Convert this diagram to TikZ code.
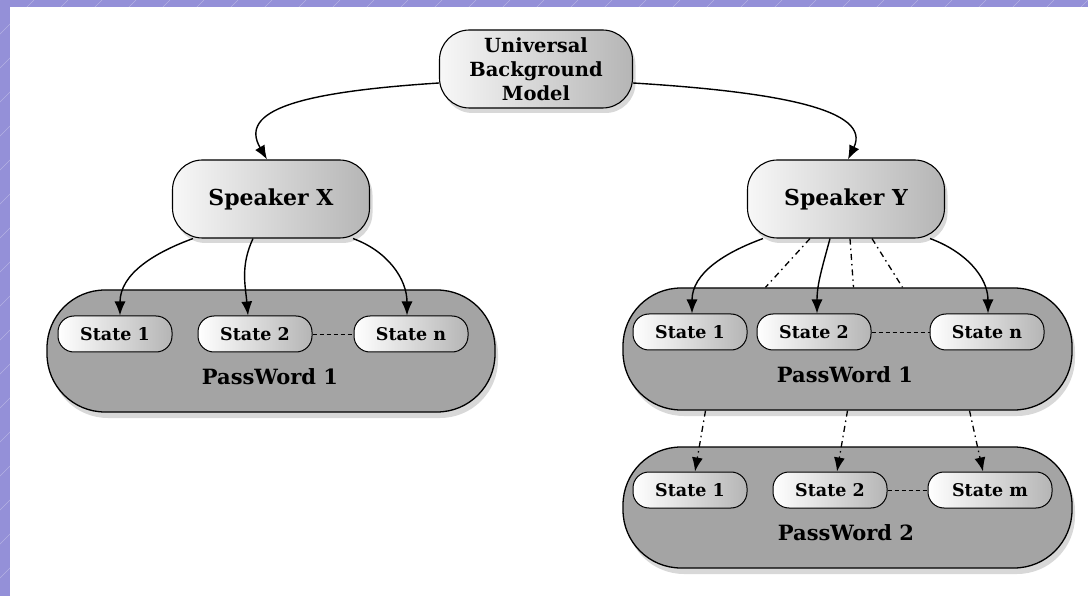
\documentclass[tikz,border=0pt]{standalone}
\usepackage{fontspec}
\usepackage{tikz}
\usepackage{xcolor}
\usetikzlibrary{calc}
\usetikzlibrary{shadows}
\usetikzlibrary{arrows.meta}
\newfontfamily\diagfont{DejaVu Serif}
\definecolor{bandcolor}{HTML}{9490D8}
\definecolor{wordfill}{HTML}{A4A4A4}
\colorlet{lightshade}{gray!6}
\colorlet{darkshade}{gray!58}
\tikzstyle{model} = [
    draw=black,
    line width=1.1pt,
    rectangle,
    rounded corners=30pt,
    left color=lightshade,
    right color=darkshade,
    drop shadow={shadow xshift=3pt,shadow yshift=-5pt,opacity=.3},
    font=\diagfont\bfseries\fontsize{19.5}{24}\selectfont,
    align=center,
    inner sep=0pt
    ]
\tikzstyle{password} = [
    draw=black,
    line width=1.3pt,
    rectangle,
    rounded corners=58pt,
    fill=wordfill,
    drop shadow={shadow xshift=3pt,shadow yshift=-6pt,opacity=.3},
    inner sep=0pt
    ]
\tikzstyle{state} = [
    draw=black,
    line width=1pt,
    rectangle,
    rounded corners=16pt,
    left color=white,
    right color=darkshade,
    minimum width=114pt,
    minimum height=36pt,
    font=\diagfont\bfseries\fontsize{17.5}{20}\selectfont,
    inner sep=0pt
    ]
\tikzstyle{wordlabel} = [
    font=\diagfont\bfseries\fontsize{21}{24}\selectfont,
    inner sep=0pt
    ]
\tikzstyle{link} = [line width=1.4pt, -{Latex[length=14pt,width=11pt]}]
\tikzstyle{hint} = [line width=1.3pt, dash pattern=on 6pt off 4pt on 1.5pt off 4pt]
\tikzstyle{gap} = [line width=0.9pt, dash pattern=on 4pt off 3pt]

\begin{document}
\begin{tikzpicture}[x=1pt,y=1pt]
% slide frame
\fill[bandcolor] (0,0) rectangle (1088,-596);
\begin{scope}
\clip (0,0) rectangle (1088,-596);
\foreach \s in {0,34,...,1700}
    \draw[white,opacity=.3,line width=.6pt] (\s-600,-600) -- (\s,0);
\end{scope}
\fill[white] (10,-7) rectangle (1088,-596);

% word boxes
\node[password, minimum width=448pt, minimum height=122pt] (wordx) at (271,-351) {};
\node[password, minimum width=449pt, minimum height=122pt] (wordy1) at (847.5,-349) {};
\node[password, minimum width=449pt, minimum height=121pt] (wordy2) at (847.5,-507.5) {};

\node[wordlabel] (labelx) at (270,-377) {PassWord 1};
\node[wordlabel] (labely1) at (845,-375) {PassWord 1};
\node[wordlabel] (labely2) at (846,-533) {PassWord 2};

% states
\node[state] (xs1) at (115,-334) {State 1};
\node[state] (xs2) at (255,-334) {State 2};
\node[state] (xsn) at (411,-334) {State n};
\node[state] (ys1) at (690,-332) {State 1};
\node[state] (ys2) at (814,-332) {State 2};
\node[state] (ysn) at (987,-332) {State n};
\node[state] (zs1) at (690,-490) {State 1};
\node[state] (zs2) at (830,-490) {State 2};
\node[state, minimum width=124pt] (zsm) at (990,-490) {State m};

% models
\node[model, minimum width=193pt, minimum height=78pt] (ubm) at (536,-69) {Universal\\Background\\Model};
\node[model, minimum width=197pt, minimum height=78pt] (spkx) at (271,-199) {\fontsize{22}{24}\selectfont Speaker X};
\node[model, minimum width=197pt, minimum height=78pt] (spky) at (846,-199) {\fontsize{22}{24}\selectfont Speaker Y};

% connectors
\draw[link] ([yshift=-14pt]ubm.west) .. controls (300,-92) and (238,-110) .. ([xshift=-4pt]spkx.north);
\draw[link] ([yshift=-14pt]ubm.east) .. controls (780,-92) and (872,-110) .. ([xshift=2pt]spky.north);

\draw[link] ([xshift=-78pt]spkx.south) to[out=200,in=90] ([xshift=5pt]xs1.north);
\draw[link] ([xshift=-18pt]spkx.south) to[out=245,in=95] ([xshift=-7pt]xs2.north);
\draw[link] ([xshift=82pt]spkx.south) to[out=-20,in=90] ([xshift=-4pt]xsn.north);

\draw[link] ([xshift=-83pt]spky.south) to[out=200,in=90] ([xshift=2pt]ys1.north);
\draw[link] ([xshift=-16pt]spky.south) to[out=255,in=90] ([xshift=3pt]ys2.north);
\draw[link] ([xshift=84pt]spky.south) to[out=-20,in=90] ([xshift=1pt]ysn.north);

\draw[hint] ([xshift=-36pt]spky.south) -- ([xshift=-82pt]wordy1.north);
\draw[hint] ([xshift=4pt]spky.south) -- ([xshift=6pt]wordy1.north);
\draw[hint] ([xshift=26pt]spky.south) -- ([xshift=55pt]wordy1.north);

\draw[hint, -{Latex[length=14pt,width=11pt]}] ([xshift=-142pt]wordy1.south) -- ([xshift=5pt]zs1.north);
\draw[hint, -{Latex[length=14pt,width=11pt]}] ([xshift=0pt]wordy1.south) -- ([xshift=7pt]zs2.north);
\draw[hint, -{Latex[length=14pt,width=11pt]}] ([xshift=122pt]wordy1.south) -- ([xshift=-7pt]zsm.north);

\draw[gap] (xs2) -- (xsn);
\draw[gap] (ys2) -- (ysn);
\draw[gap] (zs2) -- (zsm);
\end{tikzpicture}
\end{document}
